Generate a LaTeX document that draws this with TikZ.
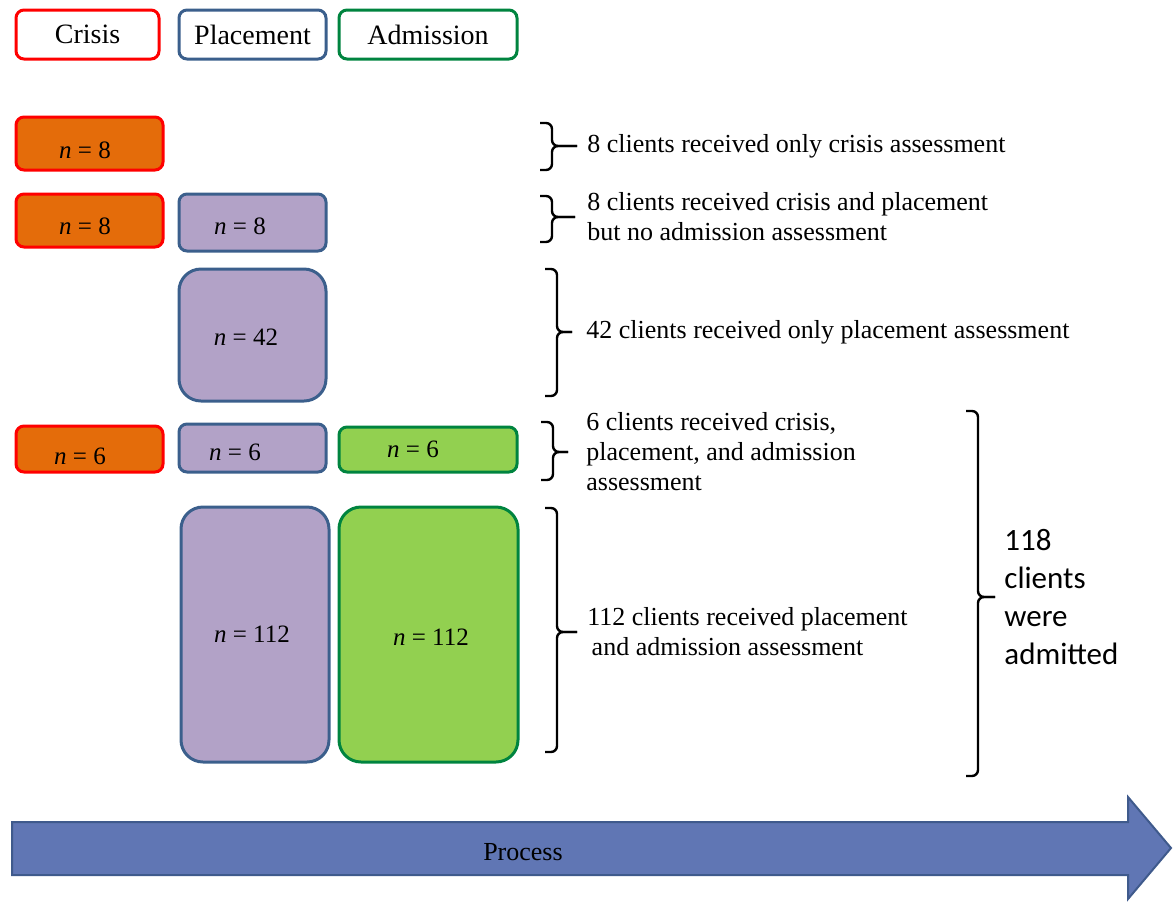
\documentclass[tikz,border=0pt]{standalone}
\usepackage{fontspec}
\setmainfont{Liberation Serif}
\newfontfamily\calfont{Carlito}
\usetikzlibrary{positioning}
\definecolor{critred}{HTML}{FF0000}
\definecolor{critorange}{HTML}{E46C0A}
\definecolor{plcblue}{HTML}{3B5F8C}
\definecolor{plcpurple}{HTML}{B2A2C7}
\definecolor{admgreen}{HTML}{00843F}
\definecolor{admlime}{HTML}{92D050}
\definecolor{procfill}{HTML}{6076B4}
\definecolor{procdraw}{HTML}{3F5A8C}
\tikzset{
  box/.style={draw, line width=1.5pt, rounded corners=4pt, inner sep=0pt, font=\fontsize{12.5}{14}\selectfont},
  legend/.style={box, fill=white, minimum height=24.5pt, font=\fontsize{14}{16}\selectfont},
  crisis/.style={box, draw=critred, fill=critorange},
  place/.style={box, draw=plcblue, fill=plcpurple},
  admit/.style={box, draw=admgreen, fill=admlime},
  tall/.style={rounded corners=11pt},
  brc/.style={line width=1.2pt, rounded corners=3pt},
  note/.style={anchor=west, align=left, inner sep=0pt, font=\fontsize{13}{15}\selectfont},
  total/.style={anchor=west, align=left, inner sep=0pt, font=\calfont\fontsize{15.5}{19}\selectfont}
}
% count label, lowered by #1 and pushed left by half of #2
\newcommand{\cnt}[3]{\raisebox{-#1}[\height][\depth]{\textit{n} = #3}\kern#2}
% bracket from (#1,#2) to (#1,#3), tip at coordinate #4 reaching x=#5
\newcommand{\grpbrace}[6]{%
  \coordinate (#4) at (#5,#6);
  \draw[brc] (#1-12,#2) -- (#1,#2) -- (#1,#6) -- (#4);
  \draw[brc] (#4) -- (#1,#6) -- (#1,#3) -- (#1-12,#3);
}
\begin{document}
\begin{tikzpicture}[x=0.5pt, y=-0.5pt]
\useasboundingbox (0,0) rectangle (1173,901);
% legend
\node[legend, draw=critred, minimum width=71.5pt] (lc) at (87.5,34.5) {Crisis};
\node[legend, draw=plcblue, minimum width=73.5pt] (lp) at (252.5,34.5) {Placement};
\node[legend, draw=admgreen, minimum width=89pt] (la) at (428,34.5) {Admission};
% crisis only
\node[crisis, minimum width=73.5pt, minimum height=26.5pt] (c1) at (89.5,143.5) {\cnt{3.25pt}{4.5pt}{8}};
% crisis and placement
\node[crisis, minimum width=73.5pt, minimum height=26.5pt] (c2) at (89.5,220.5) {\cnt{2.75pt}{4.5pt}{8}};
\node[place, minimum width=73.5pt, minimum height=28.5pt] (p2) at (252.5,222.5) {\cnt{1.75pt}{12.5pt}{8}};
% placement only
\node[place, tall, minimum width=73.5pt, minimum height=66pt] (p3) at (252.5,335) {\cnt{1pt}{6.5pt}{42}};
% all three
\node[crisis, minimum width=73.5pt, minimum height=23pt] (c4) at (89.5,449) {\cnt{3.5pt}{9.5pt}{6}};
\node[place, minimum width=73.5pt, minimum height=24pt] (p4) at (252.5,448) {\cnt{2pt}{17.5pt}{6}};
\node[admit, minimum width=89pt, minimum height=22.5pt] (a4) at (428,449.5) {\cnt{0pt}{15pt}{6}};
% placement and admission
\node[place, tall, minimum width=74pt, minimum height=127.5pt] (p5) at (255,634.5) {\cnt{0pt}{3pt}{112}};
\node[admit, tall, minimum width=89.5pt, minimum height=127.5pt] (a5) at (428.5,634.5) {\kern2.5pt\cnt{1.25pt}{0pt}{112}};
% braces and notes
\grpbrace{552}{123}{170}{b1}{577}{146}
\node[note, right=5pt of b1] (t1) {8 clients received only crisis assessment};
\grpbrace{552}{196}{242}{b2}{575}{217}
\node[note, right=6pt of b2] (t2) {8 clients received crisis and placement\\but no admission assessment};
\grpbrace{557}{269}{396}{b3}{572}{332}
\node[note, right=7pt of b3] (t3) {42 clients received only placement assessment};
\grpbrace{553}{422}{480}{b4}{568}{452}
\node[note, right=9pt of b4] (t4) {6 clients received crisis,\\placement, and admission\\assessment};
\grpbrace{557}{508}{752}{b5}{577}{632}
\node[note, right=5pt of b5] (t5) {112 clients received placement\\ \,and admission assessment};
\grpbrace{978}{411}{776}{bt}{995}{597}
\node[total, right=4.5pt of bt] (tt) {118\\clients\\were\\admitted};
% process arrow
\draw[fill=procfill, draw=procdraw, line width=1pt] (12,822) -- (1128,822) -- (1128,797) -- (1171,848)
  -- (1128,899) -- (1128,875) -- (12,875) -- cycle;
\node[font=\fontsize{13}{15}\selectfont] (proc) at (523,852) {Process};
\end{tikzpicture}
\end{document}
